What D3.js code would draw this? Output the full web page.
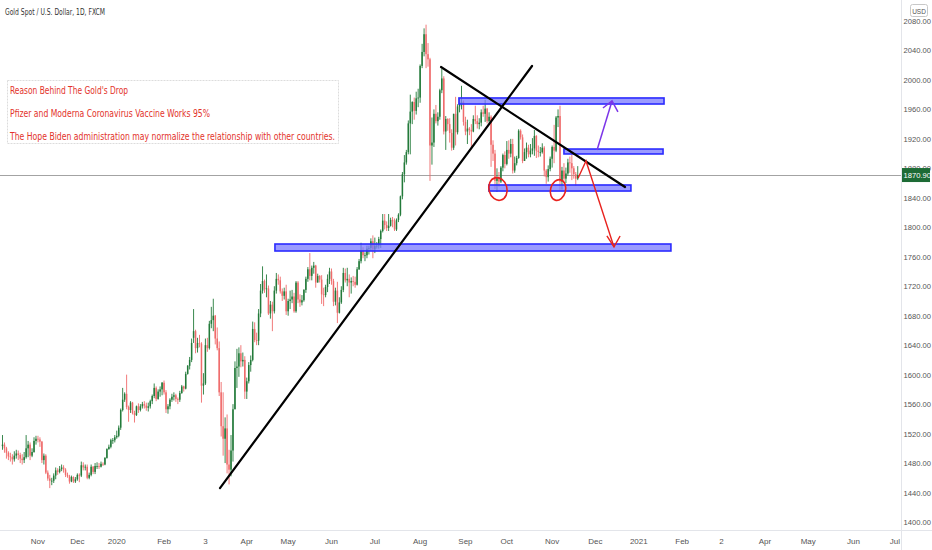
<!DOCTYPE html>
<html><head><meta charset="utf-8">
<script src="https://cdn.jsdelivr.net/npm/d3@7"></script>
<style>html,body{margin:0;padding:0;background:#fff;overflow:hidden}</style>
</head><body>
<svg id="c" width="932" height="550"></svg>
<script>
// ---------- DATA (daily candles) ----------
const opens = [
1503,1505,1500,1494,1489,1488,1485,1490,1493,1491,1486,1484,1488,1500,1505,1490,1495,1510,
1513,1512,1509,1484,1490,1467,1459,1456,1456,1463,1470,1468,1472,1474,1471,1464,1462,1455,1461,1455,1458,
1464,1463,1477,1474,1475,1460,1464,1475,1468,1476,1476,1475,1479,1478,1487,1499,1502,1511,1511,1515,
1517,1528,1552,1566,1574,1556,1552,1562,1548,1545,1557,1552,1557,1560,1558,1555,1557,1564,1571,1582,1567,1577,1580,
1589,1576,1553,1557,1566,1570,1572,1567,1566,1575,1584,1581,1601,1612,1620,1650,1659,1636,1643,1642,
1585,1588,1640,1636,1669,1674,1680,1649,1636,1576,1530,1513,1527,1478,1471,1497,1553,1609,1611,1629,1618,1620,
1577,1591,1613,1620,1662,1647,1646,1683,1714,1727,1716,1717,1683,1695,1686,1714,1730,1728,1713,1707,1713,
1686,1700,1702,1706,1686,1725,1702,1698,1701,1715,1730,1743,1734,1745,1748,1725,1734,1729,1709,1708,1719,
1730,1740,1727,1699,1714,1684,1698,1715,1738,1728,1730,1725,1727,1726,1722,1743,1754,1768,1762,1762,1771,1772,
1781,1770,1775,1775,1784,1795,1809,1803,1799,1802,1810,1808,1797,1810,1817,1842,1872,1888,1902,1941,1957,1970,1958,
1975,1976,2019,2038,2062,2035,2028,1911,1915,1954,1944,1950,1986,2002,1930,1947,1940,1928,1908,1954,1929,1964,
1968,1970,1943,1930,1934,1932,1930,1947,1944,1940,1942,1956,1954,1961,1944,1950,1912,1900,1863,1868,1862,1881,1898,
1886,1905,1900,1913,1877,1887,1894,1931,1922,1890,1902,1908,1899,1904,1907,1924,1904,1902,1902,1908,1877,1868,
1879,1893,1909,1904,1949,1951,1862,1877,1866,1873,1888,1887,1880,1872,1866
];
const highs = [
1518,1508,1502,1496,1494,1492,1496,1498,1497,1494,1492,1495,1518,1510,1508,1500,1515,1517,
1517,1515,1510,1493,1492,1470,1464,1460,1466,1474,1473,1476,1478,1477,1473,1467,1464,1463,1462,1461,1466,
1466,1482,1481,1478,1478,1467,1478,1476,1480,1481,1480,1482,1481,1488,1500,1505,1513,1514,1518,1524,
1531,1554,1582,1576,1600,1558,1564,1563,1551,1558,1561,1560,1563,1564,1562,1562,1566,1573,1588,1584,1580,1584,1590,
1592,1579,1560,1568,1574,1576,1574,1569,1578,1586,1585,1604,1613,1624,1649,1689,1661,1650,1654,1644,
1602,1649,1650,1673,1692,1703,1681,1664,1645,1590,1576,1542,1546,1498,1518,1560,1618,1635,1637,1640,1630,1625,
1596,1617,1626,1672,1671,1657,1689,1723,1747,1729,1736,1721,1700,1699,1720,1738,1736,1733,1717,1718,1722,
1703,1714,1715,1711,1727,1727,1709,1708,1716,1733,1746,1765,1748,1753,1749,1737,1735,1735,1718,1722,1736,
1745,1744,1730,1718,1726,1705,1720,1745,1744,1745,1736,1732,1734,1733,1746,1757,1779,1773,1766,1775,1775,1785,
1789,1786,1780,1787,1797,1818,1818,1808,1818,1813,1814,1812,1812,1819,1843,1875,1898,1905,1945,1980,1971,1976,1984,
1988,2021,2049,2070,2075,2050,2030,1949,1960,1966,1956,1988,2015,2005,1951,1948,1948,1933,1954,1977,1967,1975,
1992,1972,1950,1946,1936,1940,1952,1965,1952,1948,1960,1965,1973,1962,1956,1952,1918,1905,1880,1875,1883,1900,1903,
1917,1918,1920,1920,1896,1897,1933,1933,1926,1907,1915,1912,1913,1921,1932,1925,1911,1909,1914,1910,1879,1884,
1896,1911,1939,1951,1960,1965,1882,1887,1881,1893,1896,1899,1883,1875,1883
];
const lows = [
1498,1494,1486,1484,1482,1478,1482,1486,1484,1480,1478,1480,1486,1488,1484,1488,1494,1505,
1508,1502,1480,1478,1465,1456,1446,1450,1453,1458,1464,1466,1469,1467,1461,1460,1452,1454,1453,1453,1456,
1454,1461,1470,1470,1458,1458,1462,1465,1465,1472,1472,1474,1476,1477,1486,1498,1500,1506,1508,1513,
1515,1525,1550,1563,1553,1536,1548,1546,1535,1544,1548,1550,1554,1554,1551,1550,1554,1560,1568,1564,1566,1570,1572,
1573,1548,1547,1553,1563,1565,1563,1560,1563,1574,1577,1580,1600,1607,1617,1643,1629,1630,1637,1562,
1573,1586,1631,1634,1663,1659,1641,1633,1571,1516,1490,1480,1466,1451,1462,1482,1553,1582,1597,1610,1611,1567,
1567,1588,1604,1618,1644,1640,1640,1678,1710,1711,1705,1681,1676,1659,1683,1710,1722,1710,1700,1702,1681,
1680,1689,1697,1684,1684,1697,1692,1694,1699,1711,1726,1728,1728,1737,1718,1725,1725,1696,1693,1705,1712,
1723,1722,1693,1694,1670,1683,1696,1712,1725,1720,1705,1710,1720,1718,1721,1742,1751,1758,1754,1758,1763,1768,
1758,1765,1771,1771,1772,1793,1797,1795,1795,1801,1800,1795,1795,1807,1815,1838,1861,1885,1899,1899,1940,1946,1953,
1963,1969,2016,2032,2016,2018,1863,1885,1909,1941,1938,1946,1982,1926,1905,1931,1915,1904,1905,1911,1926,1956,
1960,1938,1925,1913,1925,1906,1929,1940,1934,1933,1937,1950,1943,1941,1942,1882,1890,1852,1848,1855,1860,1876,1880,
1884,1893,1895,1873,1874,1884,1893,1919,1887,1890,1893,1895,1895,1899,1897,1894,1895,1896,1900,1869,1859,1862,
1876,1881,1887,1902,1936,1850,1851,1863,1860,1870,1874,1864,1866,1856,1864
];
const closes = [
1505,1500,1494,1489,1488,1485,1490,1493,1491,1486,1484,1488,1500,1505,1490,1495,1510,1513,
1512,1509,1484,1490,1467,1459,1456,1456,1463,1470,1468,1472,1474,1471,1464,1462,1455,1461,1455,1458,1464,
1463,1477,1474,1475,1460,1464,1475,1468,1476,1476,1475,1479,1478,1487,1499,1502,1511,1511,1515,1517,
1528,1552,1566,1574,1556,1552,1562,1548,1545,1557,1552,1557,1560,1558,1555,1557,1564,1571,1582,1567,1577,1580,1589,
1576,1553,1557,1566,1570,1572,1567,1566,1575,1584,1581,1601,1612,1620,1643,1659,1636,1643,1642,1585,
1588,1640,1636,1669,1674,1680,1649,1636,1576,1530,1513,1527,1478,1471,1497,1553,1609,1611,1629,1618,1620,1577,
1591,1613,1620,1662,1647,1646,1683,1714,1727,1716,1717,1683,1695,1686,1714,1730,1728,1713,1707,1713,1686,
1700,1702,1706,1686,1725,1702,1698,1701,1715,1730,1743,1734,1745,1748,1725,1734,1729,1709,1708,1719,1730,
1740,1727,1699,1714,1684,1698,1715,1738,1728,1730,1725,1727,1726,1722,1743,1754,1768,1762,1762,1771,1772,1781,
1770,1775,1775,1784,1795,1809,1803,1799,1802,1810,1808,1797,1810,1817,1842,1872,1888,1902,1941,1957,1970,1958,1975,
1976,2019,2038,2062,2035,2028,1911,1915,1954,1944,1950,1986,2002,1930,1947,1940,1928,1908,1954,1929,1964,1968,
1970,1943,1930,1934,1932,1930,1947,1944,1940,1942,1956,1954,1961,1944,1950,1912,1900,1863,1868,1862,1881,1898,1886,
1905,1900,1913,1877,1887,1894,1931,1922,1890,1902,1908,1899,1904,1907,1924,1904,1902,1902,1908,1877,1868,1879,
1893,1909,1904,1949,1951,1862,1877,1866,1873,1888,1887,1880,1872,1866,1870.9
];
const priceTicks = [1400,1440,1480,1520,1560,1600,1640,1680,1720,1760,1800,1840,1880,1920,1960,2000,2040,2080];
const timeTickLabels = ["Nov","Dec","2020","Feb","3","Apr","May","Jun","Jul","Aug","Sep","Oct","Nov","Dec","2021","Feb","2","Apr","May","Jun","Jul"];
const timeTickBars   = [18,38,58,82,103,124,145,167,189,212,235,256,279,301,323,345,365,387,409,432,453];
const lastPrice = 1870.90;
const chartTitle = "Gold Spot / U.S. Dollar, 1D, FXCM";
const noteLines = ["Reason Behind The Gold's Drop","Pfizer and Moderna Coronavirus Vaccine Works 95%","The Hope Biden administration may normalize the relationship with other countries."];
// drawings, in (bar index, price)
const trendStartBar = [110.4, 222.6], trendStartPrice = [1446.1, 2017.5];
const trendEndBar   = [268.8, 316.0], trendEndPrice   = [2018.9, 1854.7];
const zoneStartBar = [231.7, 285.0, 246.9, 138.3];
const zoneEndBar   = [335.8, 335.3, 319.0, 339.3];
const zoneLow      = [1967.3, 1899.5, 1849.2, 1767.8];
const zoneHigh     = [1975.5, 1906.2, 1857.4, 1777.3];
const circleBar = [251.5, 282.0], circlePrice = [1852.0, 1850.6];
const redArrowBars   = [292.2, 296.2, 310.4], redArrowPrices = [1866.9, 1890.0, 1773.3];
const redHeadBars    = [306.8, 310.4, 313.5], redHeadPrices  = [1788.2, 1773.3, 1788.2];
const purpleArrowBars = [301.8, 309.4], purpleArrowPrices = [1904.9, 1971.4];
const purpleHeadBars  = [304.8, 309.4, 312.4], purpleHeadPrices = [1961.9, 1971.4, 1956.5];

// ---------- CHART ----------
const W = 932, H = 550, plotR = 901, plotB = 530;
const svg = d3.select("#c");
const x = d3.scaleLinear().domain([-2.5/1.97, 898.5/1.97]).range([0, plotR]);
const y = d3.scaleLinear().domain([1389.14, 2108.47]).range([plotB, 0]);
const narrow = "'Liberation Sans Narrow','DejaVu Sans Condensed','Arial Narrow',sans-serif";
const axisFont = "'Liberation Sans',Arial,sans-serif";

svg.append("rect").attr("width", W).attr("height", H).attr("fill", "#fff");
svg.append("defs").append("clipPath").attr("id","clip").append("rect")
  .attr("x",0).attr("y",0).attr("width",plotR).attr("height",plotB);

// last price line
svg.append("line").attr("x1",0).attr("x2",plotR)
  .attr("y1", Math.round(y(lastPrice))+0.5).attr("y2", Math.round(y(lastPrice))+0.5)
  .attr("stroke","#a3a3a3").attr("stroke-width",1);

// candles
const UP = "#237a3a", DOWN = "#ef6b6b";
const bars = d3.range(closes.length);
const cg = svg.append("g").attr("clip-path","url(#clip)");
cg.selectAll("line.w").data(bars).join("line")
  .attr("x1", i => x(i)).attr("x2", i => x(i))
  .attr("y1", i => y(highs[i])).attr("y2", i => y(lows[i]))
  .attr("stroke", i => closes[i] >= opens[i] ? UP : DOWN).attr("stroke-width", 0.9);
cg.selectAll("rect.b").data(bars).join("rect")
  .attr("x", i => x(i) - 0.75).attr("width", 1.5)
  .attr("y", i => y(Math.max(opens[i], closes[i])))
  .attr("height", i => Math.max(0.8, Math.abs(y(opens[i]) - y(closes[i]))))
  .attr("fill", i => closes[i] >= opens[i] ? UP : DOWN);

// drawings
const dg = svg.append("g").attr("clip-path","url(#clip)");
zoneStartBar.forEach((b, k) => {
  dg.append("rect").attr("x", x(b)).attr("width", x(zoneEndBar[k]) - x(b))
    .attr("y", y(zoneHigh[k])).attr("height", y(zoneLow[k]) - y(zoneHigh[k]))
    .attr("fill", "#7a7aff").attr("fill-opacity", 0.75)
    .attr("stroke", "#2b2bff").attr("stroke-width", 1.6);
});
trendStartBar.forEach((b, k) => {
  dg.append("line").attr("x1", x(b)).attr("y1", y(trendStartPrice[k]))
    .attr("x2", x(trendEndBar[k])).attr("y2", y(trendEndPrice[k]))
    .attr("stroke", "#000").attr("stroke-width", 2.2).attr("stroke-linecap","round");
});
const radii = [[9, 11.5, -15], [7.5, 10.5, 15]];
circleBar.forEach((b, k) => {
  dg.append("ellipse").attr("cx", 0).attr("cy", 0).attr("rx", radii[k][0]).attr("ry", radii[k][1])
    .attr("transform", `translate(${x(b)},${y(circlePrice[k])}) rotate(${radii[k][2]})`)
    .attr("fill","none").attr("stroke","#e8231f").attr("stroke-width",1.6);
});
const lineGen = d3.line();
const poly = (bs, ps) => lineGen(bs.map((b, k) => [x(b), y(ps[k])]));
dg.append("path").attr("d", poly(redArrowBars, redArrowPrices)).attr("fill","none").attr("stroke","#e8231f").attr("stroke-width",1.4);
dg.append("path").attr("d", poly(redHeadBars, redHeadPrices)).attr("fill","none").attr("stroke","#e8231f").attr("stroke-width",1.4);
dg.append("path").attr("d", poly(purpleArrowBars, purpleArrowPrices)).attr("fill","none").attr("stroke","#7c35e8").attr("stroke-width",1.5);
dg.append("path").attr("d", poly(purpleHeadBars, purpleHeadPrices)).attr("fill","none").attr("stroke","#7c35e8").attr("stroke-width",1.5);

// note box
const ng = svg.append("g");
ng.append("rect").attr("x", 7.5).attr("y", 80.5).attr("width", 331).attr("height", 63)
  .attr("fill", "#fff").attr("stroke", "#dcdcdc").attr("stroke-dasharray","2,1");
const noteY = [93.5, 116.5, 140], noteW = [118, 200, 325];
noteLines.forEach((t, k) => {
  ng.append("text").attr("x", 10).attr("y", noteY[k]).text(t)
    .attr("font-family", narrow).attr("font-size", 10.5).attr("fill", "#e3332b")
    .attr("textLength", noteW[k]).attr("lengthAdjust", "spacingAndGlyphs");
});

// title
svg.append("text").attr("x", 5).attr("y", 15).text(chartTitle)
  .attr("font-family", narrow).attr("font-size", 9.5).attr("fill", "#333")
  .attr("textLength", 100).attr("lengthAdjust", "spacingAndGlyphs");

// axes frames
svg.append("line").attr("x1", plotR+0.5).attr("x2", plotR+0.5).attr("y1", 0).attr("y2", H).attr("stroke","#e3e5ea");
svg.append("line").attr("x1", 0).attr("x2", W).attr("y1", plotB+0.5).attr("y2", plotB+0.5).attr("stroke","#e3e5ea");

// price axis
const ya = svg.append("g");
ya.selectAll("text").data(priceTicks).join("text")
  .attr("x", 903.5).attr("y", p => y(p) + 3).text(p => d3.format(".2f")(p))
  .attr("font-family", axisFont).attr("font-size", 7.6).attr("fill", "#555");
// time axis
svg.append("g").selectAll("text").data(timeTickBars).join("text")
  .attr("x", b => x(b)).attr("y", 544).attr("text-anchor","middle")
  .text((b, k) => timeTickLabels[k])
  .attr("font-family", axisFont).attr("font-size", 8).attr("fill", "#555");

// USD badge
svg.append("rect").attr("x", 910.5).attr("y", 4.5).attr("width", 17).attr("height", 12).attr("rx", 2)
  .attr("fill","#fff").attr("stroke","#c8c8c8");
svg.append("text").attr("x", 919).attr("y", 13.5).attr("text-anchor","middle").text("USD")
  .attr("font-family", axisFont).attr("font-size", 6.5).attr("fill","#555");

// last price label (covers the 1880.00 tick, as in the reference)
const ly = y(lastPrice);
svg.append("rect").attr("x", plotR+1).attr("y", ly - 7).attr("width", 28).attr("height", 14).attr("fill", "#1d6b35");
svg.append("text").attr("x", 903.5).attr("y", ly + 3).text(d3.format(".2f")(lastPrice))
  .attr("font-family", axisFont).attr("font-size", 7.6).attr("fill", "#fff");
</script>
</body></html>
